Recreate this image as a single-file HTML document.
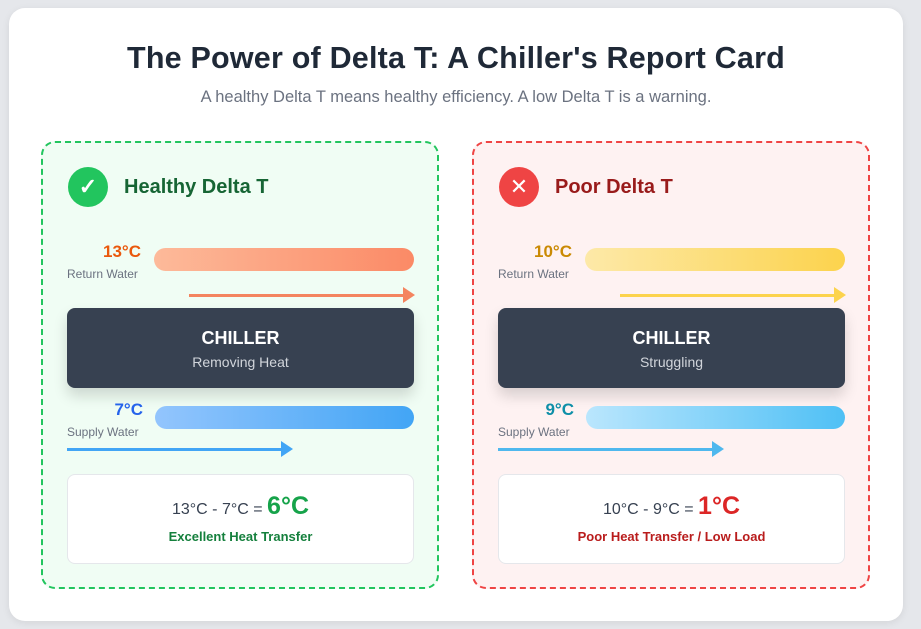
<!DOCTYPE html>
<html><head><style>
*{margin:0;padding:0;box-sizing:border-box}
body{width:921px;height:629px;background:#e5e7eb;font-family:"Liberation Sans",sans-serif;position:relative;overflow:hidden}
.card{position:absolute;left:9px;top:8px;width:894px;height:613px;background:#fff;border-radius:16px;box-shadow:0 2px 8px rgba(0,0,0,.08)}
h1{position:absolute;left:0;width:912px;top:41px;text-align:center;font-size:30.5px;font-weight:bold;color:#1f2937;letter-spacing:0.2px}
.sub{position:absolute;left:0;width:912px;top:88px;text-align:center;font-size:16.5px;color:#6b7280}
.panel{position:absolute;top:141px;width:398px;height:448px;border:2px dashed;border-radius:14px}
.icon{position:absolute;left:25px;top:24px;width:40px;height:40px;border-radius:50%;color:#fff;text-align:center;line-height:40px;font-size:22px;font-weight:bold}
.title{position:absolute;left:81px;top:33px;font-size:20px;font-weight:bold}
.temp{position:absolute;width:100px;text-align:right;font-size:17px;font-weight:bold}
.lbl{position:absolute;left:24px;font-size:12px;color:#6b7280}
.bar{position:absolute;height:23px;border-radius:12px}
.line{position:absolute;height:3px}
.head{position:absolute;width:0;height:0;border-top:8px solid transparent;border-bottom:8px solid transparent;border-left:12px solid}
.chiller{position:absolute;left:24px;top:165px;width:347px;height:80px;background:#374151;border-radius:8px;box-shadow:0 8px 14px rgba(0,0,0,.15);text-align:center;color:#fff}
.chiller b{display:block;margin-top:20px;font-size:18px}
.chiller span{display:block;margin-top:5px;font-size:14px;color:#d1d5db}
.res{position:absolute;left:24px;top:331px;width:347px;height:90px;background:#fff;border:1px solid #e5e7eb;border-radius:8px;text-align:center}
.eq{margin-top:17px;font-size:16px;color:#374151}
.eq b{font-size:25px}
.rl{margin-top:8px;font-size:13px;font-weight:bold}
</style></head><body>
<div class="card"></div>
<h1>The Power of Delta T: A Chiller's Report Card</h1>
<div class="sub">A healthy Delta T means healthy efficiency. A low Delta T is a warning.</div>

<div class="panel" style="left:41px;border-color:#22c55e;background:#f0fdf4">
 <div class="icon" style="background:#22c55e">✓</div>
 <div class="title" style="color:#166534">Healthy Delta T</div>
 <div class="temp" style="left:-2px;top:99px;color:#ea580c">13°C</div>
 <div class="lbl" style="top:124px">Return Water</div>
 <div class="bar" style="left:111px;top:105px;width:260px;background:linear-gradient(90deg,#fdba9a,#fb8a66)"></div>
 <div class="line" style="left:146px;top:151px;width:215px;background:#f4845f"></div>
 <div class="head" style="left:360px;top:144px;border-left-color:#f4845f"></div>
 <div class="chiller"><b>CHILLER</b><span>Removing Heat</span></div>
 <div class="temp" style="left:0;top:257px;color:#2563eb">7°C</div>
 <div class="lbl" style="top:282px">Supply Water</div>
 <div class="bar" style="left:112px;top:263px;width:259px;background:linear-gradient(90deg,#93c5fd,#42a5f5)"></div>
 <div class="line" style="left:24px;top:305px;width:215px;background:#42a5f5"></div>
 <div class="head" style="left:238px;top:298px;border-left-color:#42a5f5"></div>
 <div class="res"><div class="eq">13°C - 7°C = <b style="color:#16a34a">6°C</b></div><div class="rl" style="color:#15803d">Excellent Heat Transfer</div></div>
</div>

<div class="panel" style="left:472px;border-color:#ef4444;background:#fef2f2">
 <div class="icon" style="background:#ef4444;font-weight:normal">✕</div>
 <div class="title" style="color:#991b1b">Poor Delta T</div>
 <div class="temp" style="left:-2px;top:99px;color:#ca8a04">10°C</div>
 <div class="lbl" style="top:124px">Return Water</div>
 <div class="bar" style="left:111px;top:105px;width:260px;background:linear-gradient(90deg,#fde9a8,#fcd34d)"></div>
 <div class="line" style="left:146px;top:151px;width:215px;background:#fcd34d"></div>
 <div class="head" style="left:360px;top:144px;border-left-color:#fcd34d"></div>
 <div class="chiller"><b>CHILLER</b><span>Struggling</span></div>
 <div class="temp" style="left:0;top:257px;color:#0e8fa8">9°C</div>
 <div class="lbl" style="top:282px">Supply Water</div>
 <div class="bar" style="left:112px;top:263px;width:259px;background:linear-gradient(90deg,#bae6fd,#4fc0f5)"></div>
 <div class="line" style="left:24px;top:305px;width:215px;background:#4fb8ee"></div>
 <div class="head" style="left:238px;top:298px;border-left-color:#4fb8ee"></div>
 <div class="res"><div class="eq">10°C - 9°C = <b style="color:#dc2626">1°C</b></div><div class="rl" style="color:#b91c1c">Poor Heat Transfer / Low Load</div></div>
</div>
</body></html>
